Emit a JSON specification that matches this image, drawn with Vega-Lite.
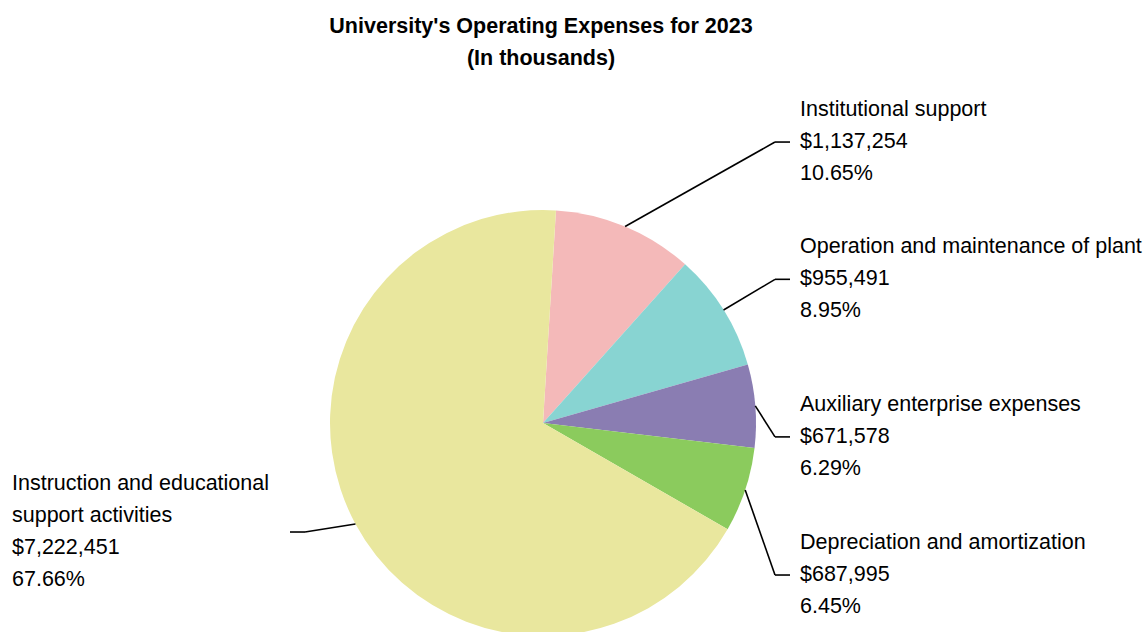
{
  "$schema": "https://vega.github.io/schema/vega-lite/v6.json",
  "width": 1146,
  "height": 552,
  "autosize": {"type": "none"},
  "padding": {"top": 80, "left": 0, "right": 0, "bottom": 0},
  "background": "white",
  "title": {
    "text": ["University's Operating Expenses for 2023", "(In thousands)"],
    "font": "Liberation Sans",
    "fontSize": 21.5,
    "fontWeight": "bold",
    "lineHeight": 32,
    "color": "black",
    "anchor": "middle",
    "dx": -32,
    "offset": 11
  },
  "config": {"view": {"stroke": null}},
  "data": {
    "values": [
      {"idx": 1, "category": "Institutional support", "value": 1137254},
      {"idx": 2, "category": "Operation and maintenance of plant", "value": 955491},
      {"idx": 3, "category": "Auxiliary enterprise expenses", "value": 671578},
      {"idx": 4, "category": "Depreciation and  amortization", "value": 687995},
      {"idx": 5, "category": "Instruction and educational\nsupport activities", "value": 7222451}
    ]
  },
  "transform": [
    {"joinaggregate": [{"op": "sum", "field": "value", "as": "total"}]},
    {"window": [{"op": "sum", "field": "value", "as": "cum"}], "sort": [{"field": "idx", "order": "ascending"}], "frame": [null, 0]},
    {"calculate": "0.061 + 2*PI*(datum.cum - datum.value/2)/datum.total", "as": "mid"},
    {"calculate": "213*sin(datum.mid)", "as": "ex"},
    {"calculate": "213*cos(datum.mid)", "as": "ey"},
    {"calculate": "sin(datum.mid) >= 0 ? 1 : -1", "as": "side"},
    {"calculate": "datum.side > 0 ? 232 : -238", "as": "bx"},
    {"calculate": "datum.side > 0 ? 350*cos(datum.mid) - 42 : 230*cos(datum.mid)", "as": "by"},
    {"calculate": "datum.bx + 15*datum.side", "as": "hx"},
    {"calculate": "datum.side > 0 ? datum.hx + 10 : -531", "as": "tx"},
    {"calculate": "datum.category + '\\n$' + format(datum.value, ',') + '\\n' + format(datum.value/datum.total, '.2%')", "as": "label"},
    {"calculate": "datum.by + 16*(length(split(datum.label, '\\n')) - 1)", "as": "ty"}
  ],
  "layer": [
    {
      "mark": {"type": "arc", "radius": 213},
      "encoding": {
        "theta": {"field": "value", "type": "quantitative", "stack": true, "scale": {"range": [0.061, 6.3442]}},
        "order": {"field": "idx", "type": "quantitative", "sort": "ascending"},
        "color": {
          "field": "category",
          "type": "nominal",
          "scale": {
            "domain": ["Institutional support", "Operation and maintenance of plant", "Auxiliary enterprise expenses", "Depreciation and  amortization", "Instruction and educational\nsupport activities"],
            "range": ["#F4B9B9", "#88D4D2", "#8A7DB2", "#8BCB5D", "#E9E79E"]
          },
          "legend": null
        },
        "x": {"datum": 0, "type": "quantitative", "scale": {"domain": [-543, 603], "nice": false, "zero": false}, "axis": null},
        "y": {"datum": 0, "type": "quantitative", "scale": {"domain": [-209, 343], "nice": false, "zero": false}, "axis": null}
      }
    },
    {
      "mark": {"type": "rule", "color": "black", "strokeWidth": 1.6},
      "encoding": {
        "x": {"field": "ex", "type": "quantitative"},
        "y": {"field": "ey", "type": "quantitative"},
        "x2": {"field": "bx"},
        "y2": {"field": "by"}
      }
    },
    {
      "mark": {"type": "rule", "color": "black", "strokeWidth": 1.6},
      "encoding": {
        "x": {"field": "bx", "type": "quantitative"},
        "y": {"field": "by", "type": "quantitative"},
        "x2": {"field": "hx"},
        "y2": {"field": "by"}
      }
    },
    {
      "mark": {"type": "text", "align": "left", "baseline": "middle", "font": "Liberation Sans", "fontSize": 21.5, "lineHeight": 32, "lineBreak": "\n", "color": "black"},
      "encoding": {
        "x": {"field": "tx", "type": "quantitative"},
        "y": {"field": "ty", "type": "quantitative"},
        "text": {"field": "label"}
      }
    }
  ]
}
